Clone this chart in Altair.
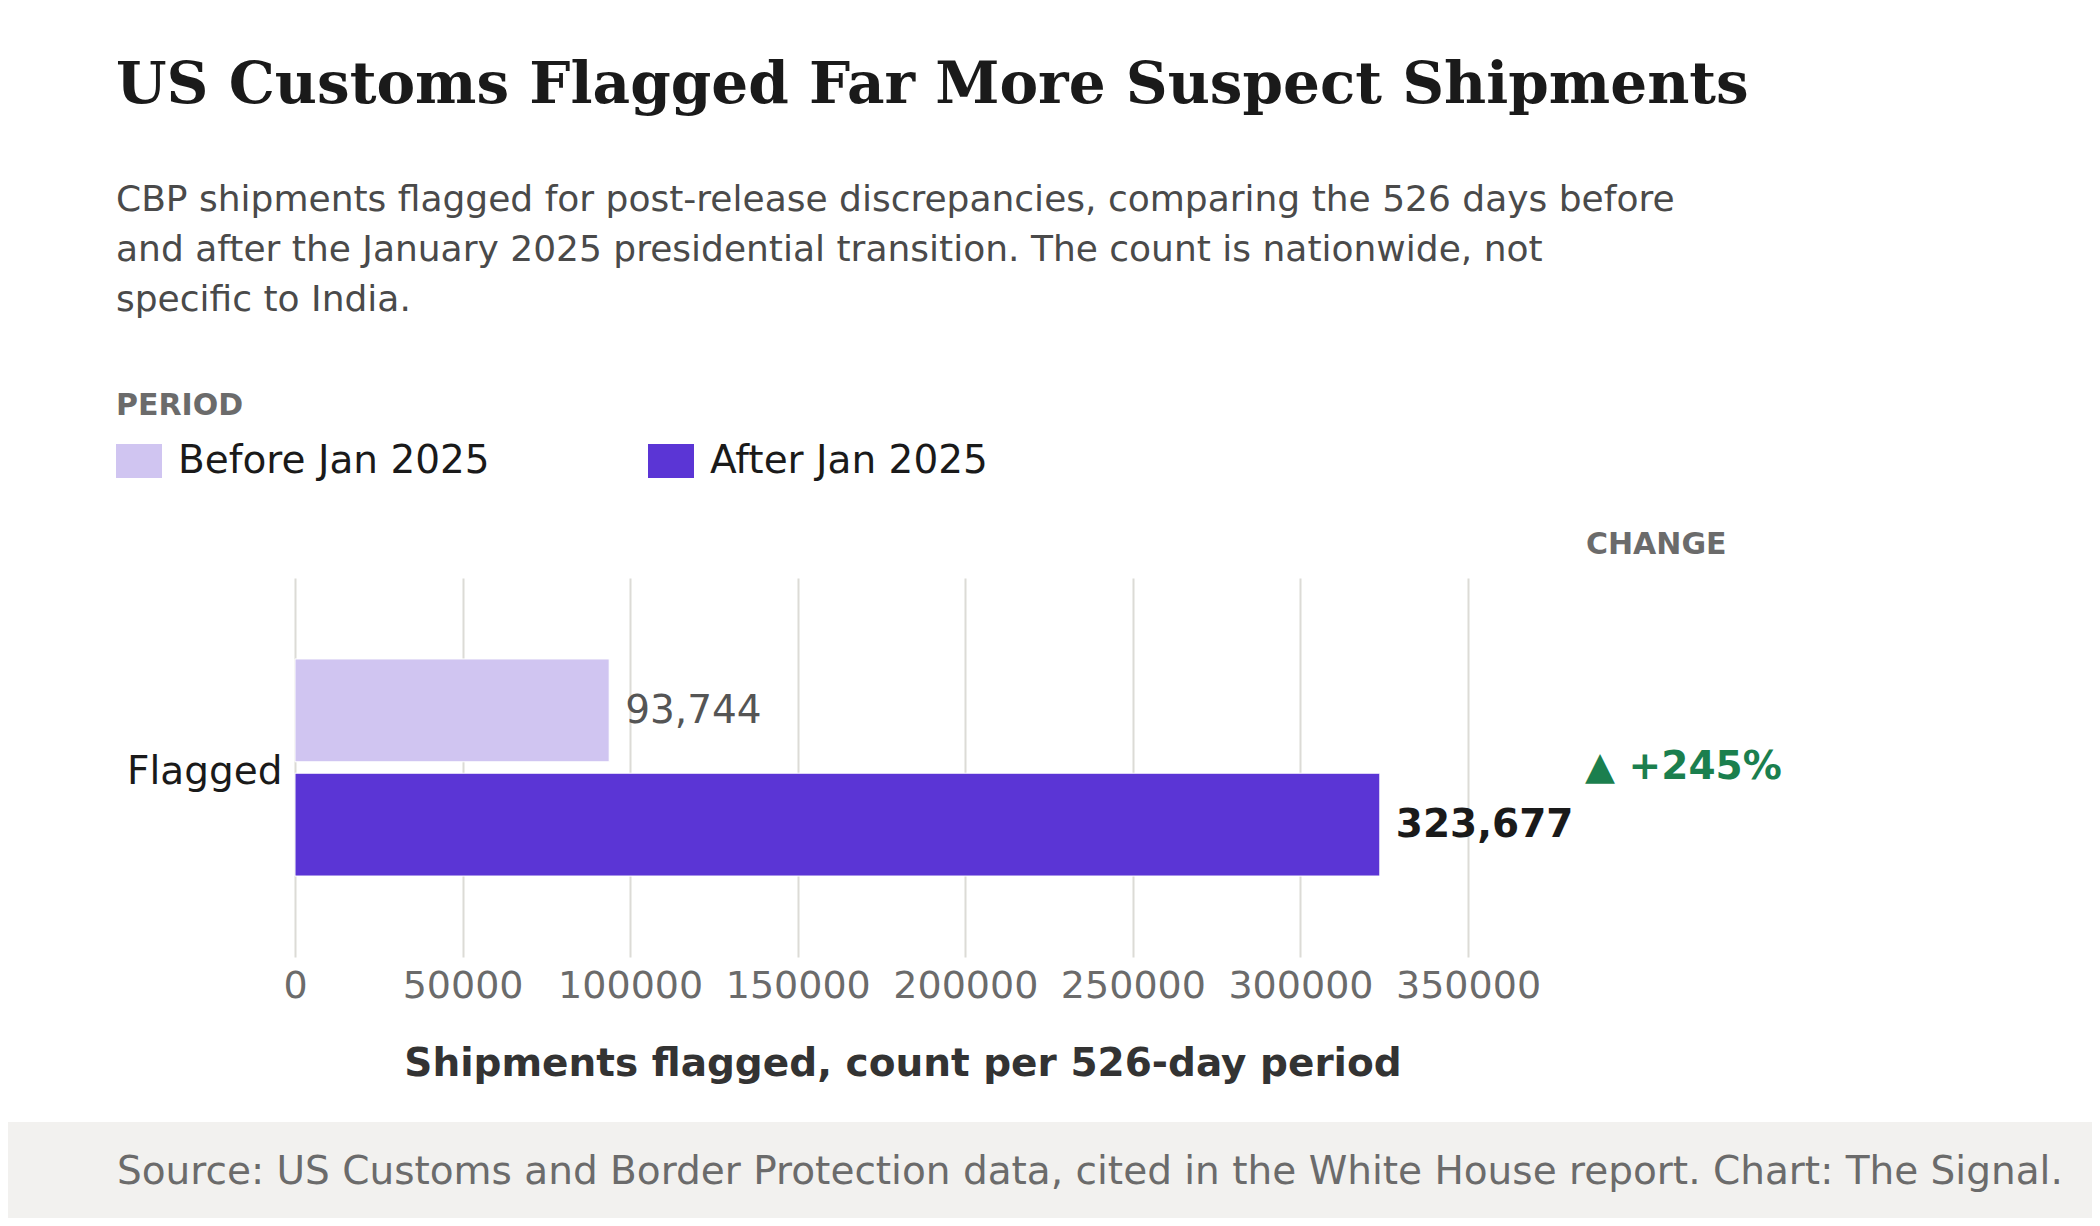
import altair as alt
import pandas as pd

# ---- data ----
CATEGORY = ["Flagged", "Flagged"]
PERIODS = ["Before Jan 2025", "After Jan 2025"]
VALUES = [93744, 323677]
COLORS = ["#d0c5f1", "#5b35d5"]
X_TICKS = [0, 50000, 100000, 150000, 200000, 250000, 300000, 350000]
X_MAX = 362518

TITLE = "US Customs Flagged Far More Suspect Shipments"
SUBTITLE = [
    "CBP shipments flagged for post-release discrepancies, comparing the 526 days before",
    "and after the January 2025 presidential transition. The count is nationwide, not",
    "specific to India.",
]
X_TITLE = "Shipments flagged, count per 526-day period"
LEGEND_TITLE = "PERIOD"
CHANGE_TITLE = "CHANGE"
SOURCE = ("Source: US Customs and Border Protection data, cited in the White House "
          "report. Chart: The Signal.")

# ---- tables ----
df = pd.DataFrame({"category": CATEGORY, "period": PERIODS, "value": VALUES})
df["label"] = df["value"].map(lambda v: f"{v:,}")
pct = round((VALUES[1] - VALUES[0]) / VALUES[0] * 100)
change_df = pd.DataFrame({"category": [CATEGORY[0]], "change": [f"▲ +{pct}%"]})

FONT = "DejaVu Sans"
W, H = 1215, 379
PAD = {"left": 287, "top": 570, "right": 582, "bottom": 261}

y_enc = alt.Y(
    "category:N", title=None,
    scale=alt.Scale(paddingInner=0, paddingOuter=0.373),
    axis=alt.Axis(labelFontSize=39, labelColor="#1a1a1a", labelPadding=13,
                  labelOffset=4, ticks=False, domain=False, labelFont=FONT),
)
yoff = alt.YOffset("period:N", sort=PERIODS,
                   scale=alt.Scale(paddingInner=0.1, paddingOuter=0))
x_enc = alt.X(
    "value:Q", title=X_TITLE,
    scale=alt.Scale(domain=[0, X_MAX], nice=False),
    axis=alt.Axis(values=X_TICKS, format="d", labelFontSize=38, labelColor="#6b6b6b",
                  labelPadding=10, ticks=False, domain=False, grid=True,
                  gridColor="#dcdbd6", gridWidth=2, labelFlush=False,
                  labelOverlap=False, titleFontSize=39, titleFontWeight="bold",
                  titleColor="#333333", titlePadding=39, labelFont=FONT, titleFont=FONT),
)

base = alt.Chart(df)

bars = base.mark_bar(stroke="white", strokeWidth=1).encode(
    x=x_enc, y=y_enc, yOffset=yoff,
    color=alt.Color(
        "period:N", sort=PERIODS,
        scale=alt.Scale(domain=PERIODS, range=COLORS),
        legend=alt.Legend(
            title=LEGEND_TITLE, orient="none", legendX=-179, legendY=-187,
            direction="horizontal", titleFontSize=30, titleFontWeight="bold",
            titleColor="#6b6b6b", titleFont=FONT, titlePadding=17,
            labelFontSize=39, labelColor="#1a1a1a", labelFont=FONT, labelOffset=16,
            labelLimit=0,
            symbolType="M-1,-0.739L1,-0.739L1,0.739L-1,0.739Z", symbolSize=2116,
            symbolStrokeWidth=0, symbolOpacity=1, columnPadding=158,
        ),
    ),
)

before_lbl = base.transform_filter(alt.datum.period == PERIODS[0]).mark_text(
    align="left", baseline="middle", dx=16, dy=1, fontSize=39, color="#555555", font=FONT
).encode(x="value:Q", y="category:N", yOffset=yoff, text="label:N")

after_lbl = base.transform_filter(alt.datum.period == PERIODS[1]).mark_text(
    align="left", baseline="middle", dx=16, dy=0, fontSize=39, fontWeight="bold",
    color="#1a1a1a", font=FONT
).encode(x="value:Q", y="category:N", yOffset=yoff, text="label:N")

change = alt.Chart(change_df).mark_text(
    align="left", baseline="middle", dy=-1, fontSize=39, fontWeight="bold",
    color="#1b7f4e", font=FONT
).encode(x=alt.value(1290), y="category:N", text="change:N")

header = alt.Chart(alt.Data(values=[{"t": CHANGE_TITLE}])).mark_text(
    align="left", baseline="alphabetic", fontSize=30, fontWeight="bold",
    color="#6b6b6b", font=FONT
).encode(x=alt.value(1291), y=alt.value(-24), text="t:N")

footer_bg = alt.Chart(alt.Data(values=[{"t": ""}])).mark_rect(color="#f2f1ef").encode(
    x=alt.value(-PAD["left"]), x2=alt.value(W + PAD["right"]),
    y=alt.value(544), y2=alt.value(H + PAD["bottom"]),
)

footer_txt = alt.Chart(alt.Data(values=[{"t": SOURCE}])).mark_text(
    align="left", baseline="alphabetic", fontSize=39, color="#6b6b6b", font=FONT
).encode(x=alt.value(-178), y=alt.value(606), text="t:N")

chart = alt.layer(
    footer_bg, footer_txt, bars, before_lbl, after_lbl, change, header
).properties(
    width=W, height=H,
    autosize=alt.AutoSizeParams(type="none"),
    padding=PAD,
    title=alt.TitleParams(
        text=TITLE, subtitle=SUBTITLE, anchor="start", frame="group", dx=-179,
        offset=73, font="DejaVu Serif", fontSize=58, fontWeight="bold",
        color="#1a1a1a", subtitleFont=FONT, subtitleFontSize=36,
        subtitleColor="#4a4a4a", subtitleLineHeight=50, subtitlePadding=68,
    ),
).configure(background="white").configure_view(stroke=None)

chart.save("out.html", embed_options={"renderer": "svg", "actions": False})
